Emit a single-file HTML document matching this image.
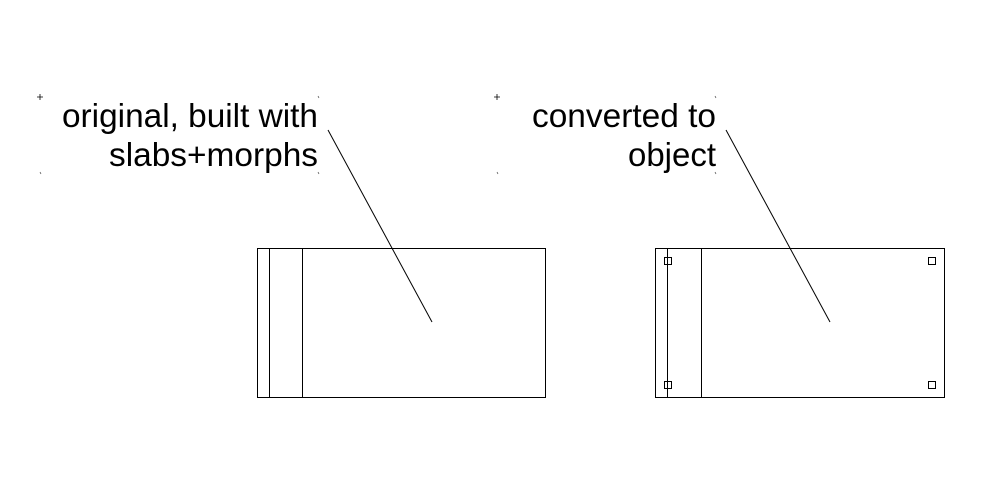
<!DOCTYPE html>
<html><head><style>body{margin:0;background:#fff}svg{display:block}</style></head>
<body>
<svg width="998" height="501" xmlns="http://www.w3.org/2000/svg">
<rect width="998" height="501" fill="#fff"/>
<g font-family="Liberation Sans, Arial, sans-serif" font-size="33" fill="#000" text-anchor="end">
<text x="318" y="127" textLength="256" lengthAdjust="spacingAndGlyphs">original, built with</text>
<text x="318" y="166" textLength="209" lengthAdjust="spacingAndGlyphs">slabs+morphs</text>
<text x="716" y="127" textLength="184" lengthAdjust="spacingAndGlyphs">converted to</text>
<text x="716" y="166" textLength="88" lengthAdjust="spacingAndGlyphs">object</text>
</g>
<g stroke="#000" stroke-width="1" fill="none">
<path d="M37 97h6M40 94v6M494 97h6M497 94v6" stroke-width="0.8"/>
<path d="M318 96l1 2M40 172l1 2M318 172l1 2M715 96l1 2M497 172l1 2M715 172l1 2" stroke="#555" stroke-width="0.8"/>
<rect x="257.5" y="248.5" width="288" height="149"/>
<line x1="269.5" y1="248" x2="269.5" y2="398"/>
<line x1="302.5" y1="248" x2="302.5" y2="398"/>
<line x1="328" y1="130" x2="432" y2="322"/>
<rect x="655.5" y="248.5" width="289" height="149"/>
<line x1="667.5" y1="248" x2="667.5" y2="398"/>
<line x1="701.5" y1="248" x2="701.5" y2="398"/>
<line x1="726" y1="130" x2="830" y2="322"/>
<rect x="664.5" y="257.5" width="7" height="7"/>
<rect x="928.5" y="257.5" width="7" height="7"/>
<rect x="664.5" y="381.5" width="7" height="7"/>
<rect x="928.5" y="381.5" width="7" height="7"/>
</g>
</svg>
</body></html>
